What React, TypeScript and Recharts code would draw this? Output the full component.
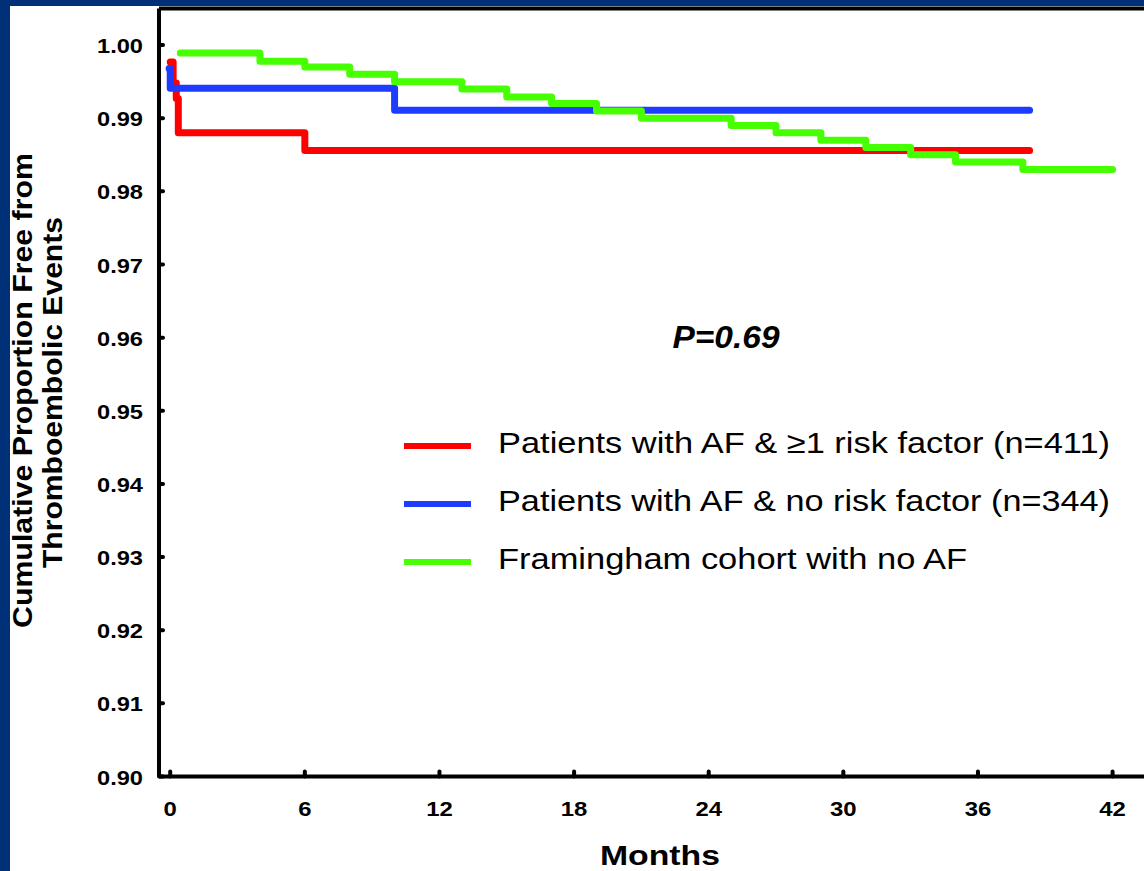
import React from 'react';
import { LineChart, Line, XAxis, YAxis, ReferenceLine } from 'recharts';

// Kaplan-Meier style step curves, months vs cumulative proportion event-free
const riskFactorCurve = [
  { month: 0.0, value: 0.9977 },
  { month: 0.13, value: 0.9948 },
  { month: 0.27, value: 0.9927 },
  { month: 0.36, value: 0.988 },
  { month: 6.0, value: 0.9856 },
  { month: 38.3, value: 0.9856 },
];

const noRiskFactorCurve = [
  { month: -0.05, value: 0.9968 },
  { month: 0.0, value: 0.9941 },
  { month: 10.0, value: 0.9911 },
  { month: 38.3, value: 0.9911 },
];

const framinghamCurve = [
  { month: 0.45, value: 0.9989 },
  { month: 4.0, value: 0.9978 },
  { month: 6.0, value: 0.997 },
  { month: 8.0, value: 0.996 },
  { month: 10.0, value: 0.995 },
  { month: 13.0, value: 0.994 },
  { month: 15.0, value: 0.9929 },
  { month: 17.0, value: 0.992 },
  { month: 19.0, value: 0.991 },
  { month: 21.0, value: 0.99 },
  { month: 25.0, value: 0.989 },
  { month: 27.0, value: 0.988 },
  { month: 29.0, value: 0.987 },
  { month: 31.0, value: 0.986 },
  { month: 33.0, value: 0.985 },
  { month: 35.0, value: 0.984 },
  { month: 38.0, value: 0.983 },
  { month: 42.0, value: 0.983 },
];

const xTicks = [0, 6, 12, 18, 24, 30, 36, 42];
const yTicks = [0.9, 0.91, 0.92, 0.93, 0.94, 0.95, 0.96, 0.97, 0.98, 0.99, 1.0];

const legendLabels = [
  'Patients with AF & \u22651 risk factor (n=411)',
  'Patients with AF & no risk factor (n=344)',
  'Framingham cohort with no AF',
];
const legendColors = ['#ff0000', '#1e3cff', '#46ff00'];
const legendWidths = [612, 612, 469];

const FONT = '"Liberation Sans", Arial, Helvetica, sans-serif';

const YTick = (props: any) => {
  const { x, y, payload } = props;
  return (
    <g>
      <line x1={x + 2} y1={y} x2={x + 6} y2={y} stroke="#000" strokeWidth={4} strokeLinecap="round" />
      <text
        x={x - 14}
        y={y}
        dy={8}
        textAnchor="end"
        fontFamily={FONT}
        fontWeight="bold"
        fontSize={21}
        fill="#000"
        textLength={46}
        lengthAdjust="spacingAndGlyphs"
      >
        {payload.value.toFixed(2)}
      </text>
    </g>
  );
};

const XTick = (props: any) => {
  const { x, y, payload } = props;
  const label = String(payload.value);
  return (
    <g>
      <line x1={x} y1={y - 2} x2={x} y2={y - 7} stroke="#000" strokeWidth={4} strokeLinecap="round" />
      <text
        x={x}
        y={y + 37}
        textAnchor="middle"
        fontFamily={FONT}
        fontWeight="bold"
        fontSize={21}
        fill="#000"
        textLength={label.length * 13.3}
        lengthAdjust="spacingAndGlyphs"
      >
        {label}
      </text>
    </g>
  );
};

export default function App() {
  return (
    <div style={{ position: 'absolute', left: 0, top: 0, width: 1144, height: 871, background: '#003078', overflow: 'hidden' }}>
      <div style={{ position: 'absolute', left: 10, top: 6, width: 1134, height: 865, background: '#fff' }} />
      <div style={{ position: 'absolute', left: 0, top: 0 }}>
        <LineChart width={1144} height={871} margin={{ top: 8.5, right: 0, bottom: 34.5, left: 0 }}>
          <XAxis
            type="number"
            dataKey="month"
            domain={[-0.5, 43.4]}
            ticks={xTicks}
            allowDataOverflow
            height={60}
            tickSize={0}
            tickLine={false}
            axisLine={{ stroke: '#000', strokeWidth: 4 }}
            tick={<XTick />}
          />
          <YAxis
            type="number"
            domain={[0.9, 1.005]}
            ticks={yTicks}
            allowDataOverflow
            width={159}
            tickSize={0}
            tickLine={false}
            axisLine={{ stroke: '#000', strokeWidth: 4 }}
            tick={<YTick />}
          />
          <ReferenceLine y={1.005} stroke="#000" strokeWidth={4} />
          <Line
            data={riskFactorCurve}
            dataKey="value"
            type="stepAfter"
            stroke={legendColors[0]}
            strokeWidth={7}
            strokeLinecap="round"
            strokeLinejoin="round"
            dot={false}
            isAnimationActive={false}
          />
          <Line
            data={noRiskFactorCurve}
            dataKey="value"
            type="stepAfter"
            stroke={legendColors[1]}
            strokeWidth={7}
            strokeLinecap="round"
            strokeLinejoin="round"
            dot={false}
            isAnimationActive={false}
          />
          <Line
            data={framinghamCurve}
            dataKey="value"
            type="stepAfter"
            stroke={legendColors[2]}
            strokeWidth={7}
            strokeLinecap="round"
            strokeLinejoin="round"
            dot={false}
            isAnimationActive={false}
          />
        </LineChart>
      </div>
      <svg width={1144} height={871} style={{ position: 'absolute', left: 0, top: 0 }}>
        {/* axis titles */}
        <text
          transform="translate(32,390.5) rotate(-90)"
          textAnchor="middle"
          fontFamily={FONT}
          fontWeight="bold"
          fontSize={27}
          textLength={475}
          lengthAdjust="spacingAndGlyphs"
        >
          Cumulative Proportion Free from
        </text>
        <text
          transform="translate(62,392.5) rotate(-90)"
          textAnchor="middle"
          fontFamily={FONT}
          fontWeight="bold"
          fontSize={27}
          textLength={351}
          lengthAdjust="spacingAndGlyphs"
        >
          Thromboembolic Events
        </text>
        <text
          x={660}
          y={865}
          textAnchor="middle"
          fontFamily={FONT}
          fontWeight="bold"
          fontSize={28}
          textLength={120}
          lengthAdjust="spacingAndGlyphs"
        >
          Months
        </text>
        <text
          x={726}
          y={348}
          textAnchor="middle"
          fontFamily={FONT}
          fontWeight="bold"
          fontStyle="italic"
          fontSize={32}
          textLength={107}
          lengthAdjust="spacingAndGlyphs"
        >
          P=0.69
        </text>
        {/* legend */}
        {legendLabels.map((label, i) => {
          const cy = 446 + i * 58;
          return (
            <g key={label}>
              <line x1={404} y1={cy} x2={471} y2={cy} stroke={legendColors[i]} strokeWidth={6} />
              <text
                x={498}
                y={cy + 7}
                fontFamily={FONT}
                fontSize={30}
                fill="#000"
                textLength={legendWidths[i]}
                lengthAdjust="spacingAndGlyphs"
              >
                {label}
              </text>
            </g>
          );
        })}
      </svg>
    </div>
  );
}
